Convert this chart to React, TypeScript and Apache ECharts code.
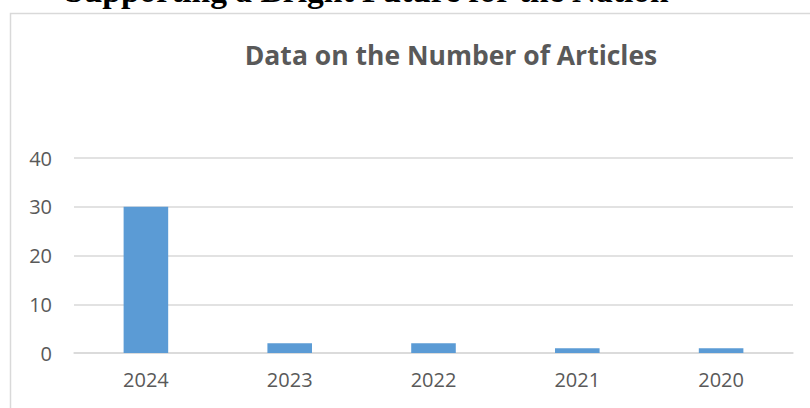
import React, { useEffect, useRef } from "react";
import * as echarts from "echarts";

const categories: string[] = ["2024", "2023", "2022", "2021", "2020"];
const articleCounts: number[] = [30, 2, 2, 1, 1];
const yTicks: number[] = [0, 10, 20, 30, 40];
const chartTitle = "Data on the Number of Articles";
const pageHeading = "Supporting a Bright Future for the Nation";

export default function App() {
  const ref = useRef<HTMLDivElement>(null);
  useEffect(() => {
    document.body.style.margin = "0";
    const chart = echarts.init(ref.current!, null, { renderer: "svg" });
    chart.setOption({
      animation: false,
      backgroundColor: "#ffffff",
      graphic: [
        {
          type: "text",
          x: 65,
          y: -27,
          style: {
            text: pageHeading,
            font: "bold 33.5px 'Liberation Serif', serif",
            fill: "#000000",
            textAlign: "left",
            textVerticalAlign: "top",
          },
        },
        {
          type: "rect",
          shape: { x: 10.5, y: 13.5, width: 900, height: 420 },
          style: { fill: "#ffffff", stroke: "#d9d9d9", lineWidth: 1.5 },
          silent: true,
        },
        {
          type: "text",
          x: 451,
          y: 55,
          style: {
            text: chartTitle,
            font: "bold 26.5px 'Open Sans', sans-serif",
            fill: "#595959",
            textAlign: "center",
            textVerticalAlign: "middle",
          },
        },
      ],
      grid: { left: 74, right: 17, top: 158, bottom: 55 },
      xAxis: {
        type: "category",
        data: categories,
        axisLine: { show: true, lineStyle: { color: "#d9d9d9", width: 1.5 } },
        axisTick: { show: false },
        axisLabel: {
          color: "#595959",
          fontFamily: "Open Sans",
          fontSize: 20,
          margin: 16,
        },
      },
      yAxis: {
        type: "value",
        min: yTicks[0],
        max: yTicks[yTicks.length - 1],
        interval: 10,
        axisLine: { show: false },
        axisTick: { show: false },
        splitLine: { lineStyle: { color: "#d9d9d9", width: 1.5 } },
        axisLabel: {
          color: "#595959",
          fontFamily: "Open Sans",
          fontSize: 20,
          margin: 22,
        },
      },
      series: [
        {
          type: "bar",
          data: articleCounts,
          barWidth: "31%",
          itemStyle: { color: "#5b9bd5" },
        },
      ],
    });
    return () => chart.dispose();
  }, []);
  return <div ref={ref} style={{ width: 810, height: 408 }} />;
}
